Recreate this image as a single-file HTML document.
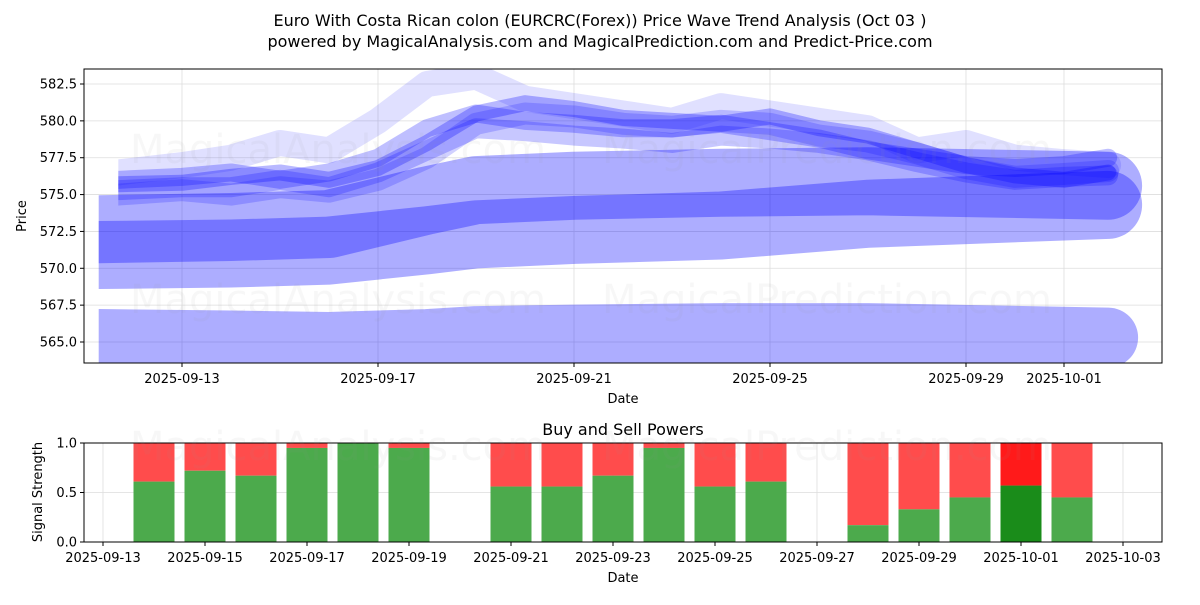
<!DOCTYPE html>
<html><head><meta charset="utf-8"><style>
body{margin:0;background:#fff;font-family:"Liberation Sans","DejaVu Sans",sans-serif}
svg text{font-family:"DejaVu Sans","Liberation Sans",sans-serif;fill:#000}
</style></head><body>
<svg id="chart" width="1200" height="600" xmlns="http://www.w3.org/2000/svg">
<defs id="defs">
<clipPath id="topclip"><rect x="84" y="69" width="1078" height="294"/></clipPath>
</defs>
<text x="600" y="26" font-size="16" text-anchor="middle">Euro With Costa Rican colon (EURCRC(Forex)) Price Wave Trend Analysis (Oct 03 )</text>
<text x="600" y="47" font-size="16" text-anchor="middle">powered by MagicalAnalysis.com and MagicalPrediction.com and Predict-Price.com</text>
<g id="top-grid"></g>
<g id="top-marks" clip-path="url(#topclip)"></g>
<g id="top-axes"></g>
<text x="623" y="403" font-size="13" text-anchor="middle">Date</text>
<text x="26" y="216" font-size="13" text-anchor="middle" transform="rotate(-90 26 216)">Price</text>
<text x="623" y="435" font-size="16" text-anchor="middle">Buy and Sell Powers</text>
<g id="bot-grid"></g>
<g id="bot-marks"></g>
<g id="bot-axes"></g>
<text x="623" y="582" font-size="13" text-anchor="middle">Date</text>
<text x="42" y="492" font-size="13" text-anchor="middle" transform="rotate(-90 42 492)">Signal Strength</text>
<g font-size="40" opacity="0.07">
<text x="130" y="163" style="fill:#999">MagicalAnalysis.com</text>
<text x="602" y="163" style="fill:#999">MagicalPrediction.com</text>
<text x="130" y="313" style="fill:#999">MagicalAnalysis.com</text>
<text x="602" y="313" style="fill:#999">MagicalPrediction.com</text>
<text x="130" y="460" style="fill:#999">MagicalAnalysis.com</text>
<text x="602" y="460" style="fill:#999">MagicalPrediction.com</text>
</g>
</svg>
<script>
// ---- top chart data (day offsets from 2025-09-13) ----
const yTicks = [565.0, 567.5, 570.0, 572.5, 575.0, 577.5, 580.0, 582.5];
const xTickDays = [0, 4, 8, 12, 16, 18];
const xTickLabels = ["2025-09-13","2025-09-17","2025-09-21","2025-09-25","2025-09-29","2025-10-01"];
const bandDays = [-1.7, 1, 3, 5, 6, 8, 11, 14, 18.9];
const bandLow = [565.2, 565.1, 565.0, 565.2, 565.4, 565.5, 565.6, 565.6, 565.3];
const bandMid1 = [572.65, 572.8, 573.0, 574.6, 575.3, 575.6, 575.8, 575.9, 575.6];
const bandMid2 = [570.9, 571.0, 571.2, 571.9, 572.3, 572.6, 572.9, 573.7, 574.3];
const waveDays = [-1.3,0,1,2,3,4,5,6,7,8,9,10,11,12,13,14,15,16,17,18,18.9];
const wave1 = [575.7,575.8,576.2,576.5,576.0,576.8,578.5,580.5,581.2,580.8,580.2,580.0,579.8,580.3,579.5,579.0,578.0,577.0,576.3,576.0,576.5];
const wave2 = [576.0,576.2,576.5,576.0,576.5,577.5,579.5,580.5,580.0,579.8,579.5,579.5,579.8,579.3,578.8,578.0,577.5,577.0,576.8,577.0,577.5];
const wave3 = [575.3,575.5,575.5,576.0,575.5,576.5,578.0,579.5,579.3,579.0,578.8,578.5,579.0,578.8,578.5,578.0,577.2,576.5,576.0,576.2,576.3];
const wave4 = [576.5,577.0,577.5,578.5,578.0,580.0,582.5,583.0,581.5,581.0,580.5,580.0,581.0,580.5,580.0,579.5,578.0,578.5,577.5,577.2,577.0];
const wave5 = [575.0,575.3,575.0,575.5,575.2,576.0,577.5,579.8,580.5,580.3,579.8,579.6,580.0,579.8,579.0,578.6,577.8,576.8,576.2,576.4,576.6];
// ---- bottom chart data ----
const barDays = [1,2,3,4,5,6,8,9,10,11,12,13,15,16,17,18,19];
const buyPower = [0.61,0.72,0.67,0.95,1.0,0.95,0.56,0.56,0.67,0.95,0.56,0.61,0.17,0.33,0.45,0.57,0.45];
const botTickDays = [0,2,4,6,8,10,12,14,16,18,20];
const botTickLabels = ["2025-09-13","2025-09-15","2025-09-17","2025-09-19","2025-09-21","2025-09-23","2025-09-25","2025-09-27","2025-09-29","2025-10-01","2025-10-03"];
const botYTicks = [0.0, 0.5, 1.0];
const highlightDay = 18;

const NS="http://www.w3.org/2000/svg";
function mk(tag, attrs, parent){const e=document.createElementNS(NS,tag);for(const k in attrs)e.setAttribute(k,attrs[k]);parent.appendChild(e);return e;}
const xT = d => 182 + d*49;
const yT = v => 342 - (v-565)*(258/17.5);
const xB = d => 103 + d*51;
const yB = v => 542 - v*99;

const tg=document.getElementById('top-grid'), tm=document.getElementById('top-marks'), ta=document.getElementById('top-axes');
const defs=document.getElementById('defs');
yTicks.forEach(v=>{
  const l=mk('line',{x1:84,x2:1162,y1:yT(v),y2:yT(v),stroke:'#ddd','stroke-width':0.8},tg);
  
  
  const t=mk('line',{x1:80,x2:84,y1:yT(v),y2:yT(v),stroke:'#000'},ta);
  
  
  const tx=mk('text',{x:77,y:yT(v)+4.5,'font-size':13,'text-anchor':'end'},ta);tx.textContent=v.toFixed(1);
  
  
});
xTickDays.forEach((d,i)=>{
  const l=mk('line',{x1:xT(d),x2:xT(d),y1:69,y2:363,stroke:'#ddd','stroke-width':0.8},tg);
  
  
  const t=mk('line',{x1:xT(d),x2:xT(d),y1:363,y2:367,stroke:'#000'},ta);
  
  
  const tx=mk('text',{x:xT(d),y:383,'font-size':13,'text-anchor':'middle'},ta);tx.textContent=xTickLabels[i];
  
  
});
let clipId=0;
function drawLine(days, vals, w, op, name){
  const id='lc'+(clipId++);
  const cp=mk('clipPath',{id:id},defs);
  mk('rect',{x:xT(days[0]),y:0,width:1200,height:600},cp);
  const g=mk('g',{'clip-path':'url(#'+id+')'},tm);
  const pts=days.map((d,i)=>xT(d)+','+yT(vals[i])).join(' ');
  const p=mk('polyline',{points:pts,fill:'none',stroke:'#0000ff','stroke-opacity':op,'stroke-width':w,'stroke-linejoin':'round','stroke-linecap':'round'},g);
  
  
}
drawLine(bandDays, bandLow, 60, 0.32, 'band-low');
drawLine(bandDays, bandMid2, 68, 0.32, 'band-mid-2');
drawLine(bandDays, bandMid1, 68, 0.32, 'band-mid-1');
drawLine(waveDays, wave4, 26, 0.12, 'wave-4');
drawLine(waveDays, wave5, 22, 0.18, 'wave-5');
drawLine(waveDays, wave3, 20, 0.22, 'wave-3');
drawLine(waveDays, wave2, 18, 0.25, 'wave-2');
drawLine(waveDays, wave1, 16, 0.28, 'wave-1');
mk('rect',{x:84,y:69,width:1078,height:294,fill:'none',stroke:'#000','stroke-width':1},ta);

const bg=document.getElementById('bot-grid'), bm=document.getElementById('bot-marks'), ba=document.getElementById('bot-axes');
botYTicks.forEach(v=>{
  const l=mk('line',{x1:84,x2:1162,y1:yB(v),y2:yB(v),stroke:'#ddd','stroke-width':0.8},bg);
  
  
  const t=mk('line',{x1:80,x2:84,y1:yB(v),y2:yB(v),stroke:'#000'},ba);
  
  
  const tx=mk('text',{x:77,y:yB(v)+4.5,'font-size':13,'text-anchor':'end'},ba);tx.textContent=v.toFixed(1);
  
  
});
botTickDays.forEach((d,i)=>{
  const l=mk('line',{x1:xB(d),x2:xB(d),y1:443,y2:542,stroke:'#ddd','stroke-width':0.8},bg);
  
  
  const t=mk('line',{x1:xB(d),x2:xB(d),y1:542,y2:546,stroke:'#000'},ba);
  
  
  const tx=mk('text',{x:xB(d),y:562,'font-size':13,'text-anchor':'middle'},ba);tx.textContent=botTickLabels[i];
  
  
});
barDays.forEach((d,i)=>{
  const hl=d===highlightDay;
  const x=xB(d)-20.5, w=41;
  const r=mk('rect',{x:x,y:yB(1),width:w,height:yB(buyPower[i])-yB(1),fill:hl?'#ff1a1a':'#ff4c4c'},bm);
  
  
  const g=mk('rect',{x:x,y:yB(buyPower[i]),width:w,height:yB(0)-yB(buyPower[i]),fill:hl?'#1a8c1a':'#4caa4c'},bm);
  
  
});
mk('rect',{x:84,y:443,width:1078,height:99,fill:'none',stroke:'#000','stroke-width':1},ba);
</script>
</body></html>
